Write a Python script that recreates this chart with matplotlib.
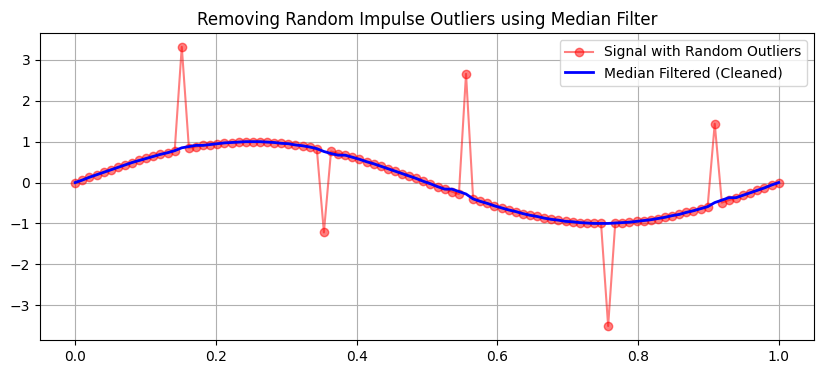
import matplotlib.pyplot as plt
import numpy as np

# 100 samples of the noisy signal, x from 0 to 1
x = np.linspace(0, 1, 100)

signal = [
    0.00, 0.06, 0.13, 0.19, 0.25, 0.31, 0.37, 0.43, 0.49, 0.54,
    0.59, 0.64, 0.69, 0.73, 0.78, 3.32, 0.85, 0.88, 0.91, 0.93,
    0.95, 0.97, 0.98, 0.99, 1.00, 1.00, 1.00, 0.99, 0.98, 0.96,
    0.95, 0.92, 0.90, 0.87, 0.83, -1.22, 0.76, 0.71, 0.67, 0.62,
    0.57, 0.51, 0.46, 0.40, 0.34, 0.28, 0.22, 0.16, 0.10, 0.03,
    -0.03, -0.10, -0.16, -0.22, -0.28, 2.66, -0.40, -0.46, -0.51, -0.57,
    -0.62, -0.67, -0.71, -0.76, -0.80, -0.83, -0.87, -0.90, -0.92, -0.95,
    -0.96, -0.98, -0.99, -1.00, -1.00, -3.51, -0.99, -0.98, -0.97, -0.95,
    -0.93, -0.91, -0.88, -0.85, -0.81, -0.78, -0.73, -0.69, -0.64, -0.59,
    1.44, -0.49, -0.43, -0.37, -0.31, -0.25, -0.19, -0.13, -0.06, 0.00,
]
signal = np.array(signal)

# median filter (kernel 5, zero padded at the ends)
k = 5
padded = np.pad(signal, k // 2)
filtered = np.median(np.lib.stride_tricks.sliding_window_view(padded, k), axis=1)

fig = plt.figure(figsize=(8.25, 3.74), dpi=100)
ax = fig.add_axes([0.0485, 0.091, 0.938, 0.821])

ax.plot(x, signal, 'o-', color='red', alpha=0.5, label='Signal with Random Outliers')
ax.plot(x, filtered, color='blue', linewidth=2, label='Median Filtered (Cleaned)')

ax.set_title('Removing Random Impulse Outliers using Median Filter')
ax.legend()
ax.grid(True)

plt.savefig('out.png')
